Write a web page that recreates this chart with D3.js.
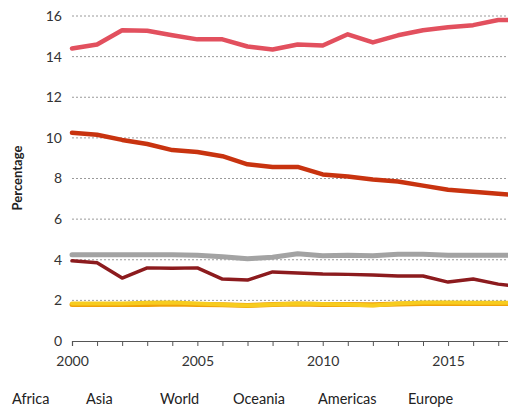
<!DOCTYPE html>
<html>
<head>
<meta charset="utf-8">
<script src="https://cdn.jsdelivr.net/npm/d3@7"></script>
<style>
  html, body { margin: 0; padding: 0; background: #fff; }
  svg { display: block; font-family: "Lato", "Open Sans", sans-serif; }
</style>
</head>
<body>
<svg id="chart" width="508" height="409"></svg>
<script>
// Yearly values, percentage
const years = d3.range(2000, 2019);
const africa   = [14.4, 14.6, 15.3, 15.27, 15.05, 14.85, 14.85, 14.5, 14.35, 14.6, 14.55, 15.1, 14.7, 15.05, 15.3, 15.45, 15.55, 15.8, 15.8];
const asia     = [10.25, 10.15, 9.9, 9.7, 9.4, 9.3, 9.1, 8.7, 8.57, 8.57, 8.2, 8.1, 7.95, 7.85, 7.65, 7.45, 7.35, 7.25, 7.15];
const world    = [4.25, 4.25, 4.25, 4.25, 4.25, 4.22, 4.15, 4.05, 4.12, 4.3, 4.2, 4.22, 4.2, 4.27, 4.27, 4.22, 4.22, 4.22, 4.22];
const oceania  = [3.95, 3.85, 3.1, 3.6, 3.58, 3.6, 3.05, 3.0, 3.4, 3.35, 3.3, 3.28, 3.25, 3.2, 3.2, 2.9, 3.05, 2.8, 2.65];
const americas = [1.8, 1.8, 1.8, 1.8, 1.82, 1.8, 1.78, 1.75, 1.8, 1.82, 1.8, 1.8, 1.78, 1.82, 1.85, 1.85, 1.85, 1.85, 1.85];
const europe   = [1.85, 1.85, 1.85, 1.88, 1.9, 1.85, 1.8, 1.75, 1.8, 1.85, 1.82, 1.8, 1.75, 1.85, 1.9, 1.9, 1.88, 1.88, 1.88];
const seriesNames = ["Africa", "Asia", "World", "Oceania", "Americas", "Europe"];
const yTicks = [0, 2, 4, 6, 8, 10, 12, 14, 16];
const xTicks = [2000, 2005, 2010, 2015];

const seriesValues = [africa, asia, world, oceania, americas, europe];
const colors = ["#e2505e", "#c8330f", "#a3a3a3", "#8c1b1e", "#f0a20a", "#f7cc1f"];
const widths = [4.5, 4.5, 5, 3.5, 5, 4];
const drawOrder = [2, 4, 5, 3, 1, 0];

const svg = d3.select("#chart");
const x = d3.scaleLinear().domain([2000, 2018]).range([72, 523.3]);
const y = d3.scaleLinear().domain([0, 16]).range([341, 16]);

// dotted gridlines
svg.append("g")
  .selectAll("line")
  .data(yTicks.filter(d => d > 0))
  .join("line")
  .attr("x1", 72).attr("x2", 508)
  .attr("y1", d => y(d)).attr("y2", d => y(d))
  .attr("stroke", "#9a9a9a")
  .attr("stroke-width", 1)
  .attr("stroke-dasharray", "2,2");

// y tick labels
svg.append("g")
  .selectAll("text")
  .data(yTicks)
  .join("text")
  .attr("x", 62).attr("y", d => y(d))
  .attr("dy", "0.35em")
  .attr("text-anchor", "end")
  .attr("font-size", 14)
  .attr("fill", "#333")
  .text(d => d);

// x axis with yearly ticks
const xAxis = d3.axisBottom(x)
  .tickValues(years)
  .tickSize(5)
  .tickFormat(d => xTicks.includes(d) ? d : "");
const gx = svg.append("g").attr("transform", `translate(0,${y(0)})`).call(xAxis);
gx.select(".domain").attr("stroke", "#555").attr("stroke-width", 1.2);
gx.selectAll(".tick line").attr("stroke", "#555");
gx.selectAll(".tick text")
  .attr("font-size", 14)
  .attr("fill", "#333")
  .attr("font-family", "Lato, 'Open Sans', sans-serif")
  .attr("y", 15);

// y axis title
svg.append("text")
  .attr("transform", "translate(22,178) rotate(-90)")
  .attr("text-anchor", "middle")
  .attr("font-size", 13)
  .attr("font-weight", "bold")
  .attr("fill", "#222")
  .text("Percentage");

// lines
const line = d3.line()
  .x((d, i) => x(years[i]))
  .y(d => y(d));

svg.append("g")
  .selectAll("path")
  .data(drawOrder)
  .join("path")
  .attr("d", k => line(seriesValues[k]))
  .attr("fill", "none")
  .attr("stroke", k => colors[k])
  .attr("stroke-width", k => widths[k])
  .attr("stroke-linejoin", "round")
  .attr("stroke-linecap", "round");

// legend labels
const legendX = [12, 86, 160, 233, 318, 408];
svg.append("g")
  .selectAll("text")
  .data(seriesNames)
  .join("text")
  .attr("x", (d, i) => legendX[i])
  .attr("y", 399)
  .attr("dy", "0.35em")
  .attr("font-size", 14.5)
  .attr("fill", "#222")
  .text(d => d);
</script>
</body>
</html>
